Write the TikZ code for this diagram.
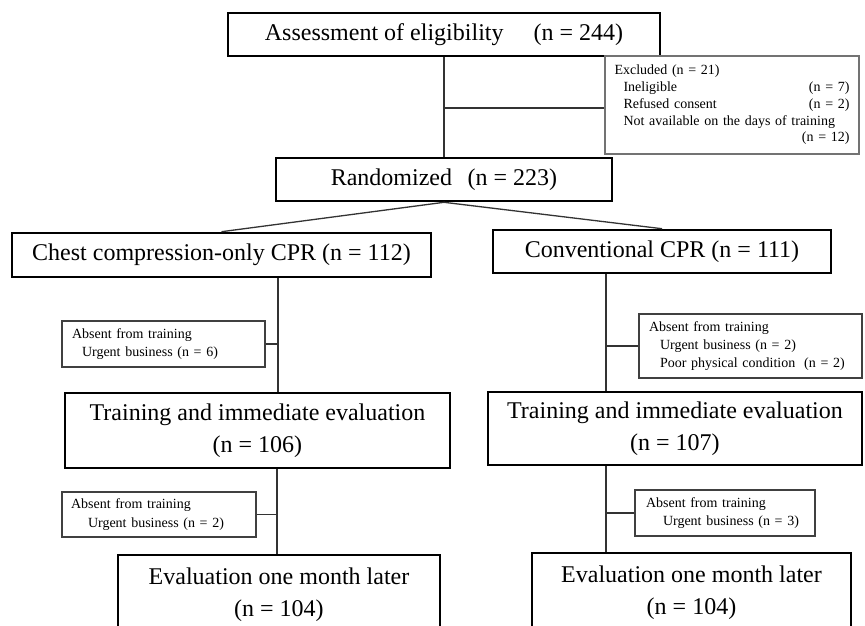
\documentclass[tikz,border=0pt]{standalone}
\usepackage{fontspec}
\setmainfont{Liberation Serif}
\begin{document}
\begin{tikzpicture}[x=1pt,y=-1pt,
  big/.style={draw=black, line width=2.6pt, inner sep=0pt, align=center,
              font=\fontsize{24}{32}\selectfont},
  small/.style={draw=black!75, line width=1.1pt, inner ysep=0pt, align=left,
              font=\fontsize{14}{18.5}\selectfont},
  link/.style={draw=black!80, line width=1.3pt}]
\useasboundingbox (0,0) rectangle (865,625);

% main boxes
\node[big, minimum width=432pt, minimum height=43pt] (A) at (444,34.5)
  {Assessment of eligibility\hspace{1em} (n = 244)};
\node[big, minimum width=336pt, minimum height=43pt] (R) at (444,179.5)
  {Randomized\hspace{0.4em} (n = 223)};
\node[big, minimum width=419pt, minimum height=44pt] (C1) at (221.5,255)
  {Chest compression-only CPR (n = 112)};
\node[big, minimum width=338pt, minimum height=43pt] (C2) at (662,251.5)
  {Conventional CPR (n = 111)};
\node[big, minimum width=385pt, minimum height=75pt] (T1) at (257.5,430.5)
  {Training and immediate evaluation\\(n = 106)};
\node[big, minimum width=374pt, minimum height=73pt] (T2) at (675,428.5)
  {Training and immediate evaluation\\(n = 107)};
\node[big, minimum width=322pt, minimum height=80pt] (E1) at (279,595)
  {Evaluation one month later\\(n = 104)};
\node[big, minimum width=319pt, minimum height=80pt] (E2) at (691.5,593)
  {Evaluation one month later\\(n = 104)};

% side boxes
\node[small, draw=black!55, inner xsep=0pt, minimum width=254pt, minimum height=98pt,
      text width=235pt, font=\fontsize{14}{16.8}\selectfont] (Ex) at (732,105)
  {Excluded (n = 21)\\
   \hspace*{9pt}Ineligible\hfill(n = 7)\\
   \hspace*{9pt}Refused consent\hfill(n = 2)\hspace*{5pt}\\
   \hspace*{9pt}Not available on the days of training\\
   \mbox{}\hfill(n = 12)};
\node[small, inner xsep=10pt, text width=183pt, minimum height=46pt] (Ab1) at (163.5,344)
  {Absent from training\\\hspace*{10pt}Urgent business (n = 6)};
\node[small, inner xsep=10pt, text width=203pt, minimum height=64pt,
      font=\fontsize{14}{18}\selectfont] (Ab2) at (750.5,346)
  {Absent from training\\\hspace*{11pt}Urgent business (n = 2)\\\hspace*{11pt}\mbox{Poor physical condition\hspace{0.3em} (n = 2)}};
\node[small, inner xsep=9pt, text width=176pt, minimum height=45pt] (Ab3) at (159,514.5)
  {Absent from training\\\hspace*{17pt}Urgent business (n = 2)};
\node[small, inner xsep=11pt, text width=158pt, minimum height=46pt] (Ab4) at (725,513)
  {Absent from training\\\hspace*{17pt}Urgent business (n = 3)};

% connectors
\coordinate (b1) at (444,108);
\coordinate (lx) at (278,0);
\coordinate (lx2) at (277,0);
\coordinate (rx) at (606,0);
\draw[link] (A.south) -- (R.north);
\draw[link] (b1) -- (Ex.west |- b1);
\draw[link] (R.south) -- (C1.north);
\draw[link] (R.south) -- (C2.north);
\draw[link] (C1.south -| lx) -- (T1.north -| lx);
\draw[link] (Ab1.east) -- (Ab1.east -| lx);
\draw[link] (C2.south -| rx) -- (T2.north -| rx);
\draw[link] (Ab2.west) -- (Ab2.west -| rx);
\draw[link] (T1.south -| lx2) -- (E1.north -| lx2);
\draw[link] (Ab3.east) -- (Ab3.east -| lx2);
\draw[link] (T2.south -| rx) -- (E2.north -| rx);
\draw[link] (Ab4.west) -- (Ab4.west -| rx);
\end{tikzpicture}
\end{document}
